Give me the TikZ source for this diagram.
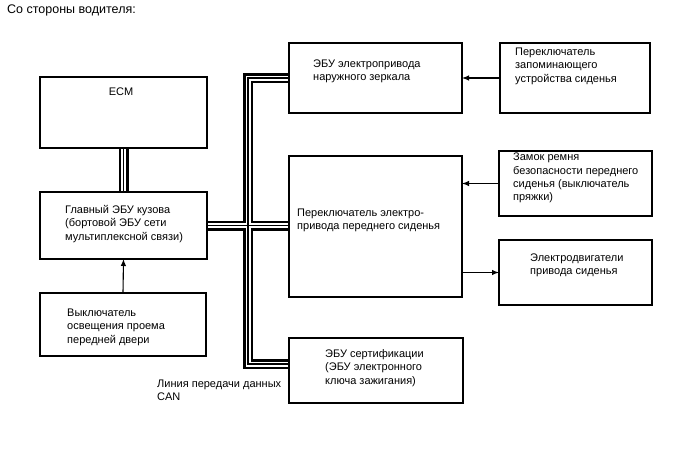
\documentclass[tikz,border=0pt]{standalone}
\usepackage{fontspec}
\setmainfont{Liberation Sans}
\usetikzlibrary{arrows.meta}
\newcommand\tstrut{\rule{0pt}{10pt}}
\begin{document}
\begin{tikzpicture}[x=1pt,y=-1pt,
  box/.style={draw, line width=1.1pt, anchor=north west, inner sep=0pt, outer sep=0pt},
  txt/.style={anchor=north west, align=left, inner sep=0pt, font=\fontsize{11}{13.4}\selectfont},
  arr/.style={line width=1.1pt, -{Latex[length=7pt,width=5.5pt]}},
  bus/.style={line width=1.8pt, preaction={draw, line width=10pt}, preaction={draw=white, line width=5pt}}]
\useasboundingbox (0,0) rectangle (688,463);
% boxes (geometry)
\node[box, minimum width=167pt, minimum height=71pt] (ecm) at (40,77) {};
\node[box, minimum width=167pt, minimum height=67pt] (main) at (40,192) {};
\node[box, minimum width=166pt, minimum height=63pt] (door) at (40,293) {};
\node[box, minimum width=173pt, minimum height=70pt] (mirror) at (289,43) {};
\node[box, minimum width=150pt, minimum height=70pt] (memsw) at (500,43) {};
\node[box, minimum width=173pt, minimum height=141pt] (seat) at (289,156) {};
\node[box, minimum width=153pt, minimum height=65pt] (belt) at (499,151) {};
\node[box, minimum width=153pt, minimum height=65pt] (motors) at (499,240) {};
\node[box, minimum width=174pt, minimum height=65pt] (cert) at (289,338) {};
% CAN bus
\coordinate (bx) at (248,0);
\coordinate (certin) at (289,364);
\draw[bus] (ecm.south) -- (main.north)
  (main.east) -- (main.east -| seat.west)
  (mirror.west) -- (mirror.west -| bx) -- (bx |- certin) -- (certin);
% redraw boxes on top
\foreach \n in {ecm,main,door,mirror,memsw,seat,belt,motors,cert}
  \draw[line width=1.1pt] (\n.north west) rectangle (\n.south east);
% texts
\node[txt, anchor=base west, font=\fontsize{12.5}{14}\selectfont] (title) at (7,13) {Со стороны водителя:};
\node[txt, anchor=base] (tecm) at (121,95) {ECM};
\node[txt] (tmain) at (65,203) {\tstrut Главный ЭБУ кузова\\(бортовой ЭБУ сети\\мультиплексной связи)};
\node[txt] (tdoor) at (67,306) {\tstrut Выключатель\\освещения проема\\передней двери};
\node[txt] (tmirror) at (313,57) {\tstrut ЭБУ электропривода\\наружного зеркала};
\node[txt] (tmemsw) at (515,45) {\tstrut Переключатель\\запоминающего\\устройства сиденья};
\node[txt] (tseat) at (297,206) {\tstrut Переключатель электро-\\привода переднего сиденья};
\node[txt] (tbelt) at (513,150.5) {\tstrut Замок ремня\\безопасности переднего\\сиденья (выключатель\\пряжки)};
\node[txt] (tmotors) at (530,251) {\tstrut Электродвигатели\\привода сиденья};
\node[txt] (tcert) at (325,347) {\tstrut ЭБУ сертификации\\(ЭБУ электронного\\ключа зажигания)};
\node[txt] (tcan) at (157,377) {\tstrut Линия передачи данных\\CAN};
% arrows
\draw[arr] (door.north) -- (main.south);
\draw[arr] (memsw.west) -- (mirror.east);
\draw[arr] (belt.west) -- (belt.west -| seat.east);
\draw[arr] (motors.west -| seat.east) -- (motors.west);
\end{tikzpicture}
\end{document}
